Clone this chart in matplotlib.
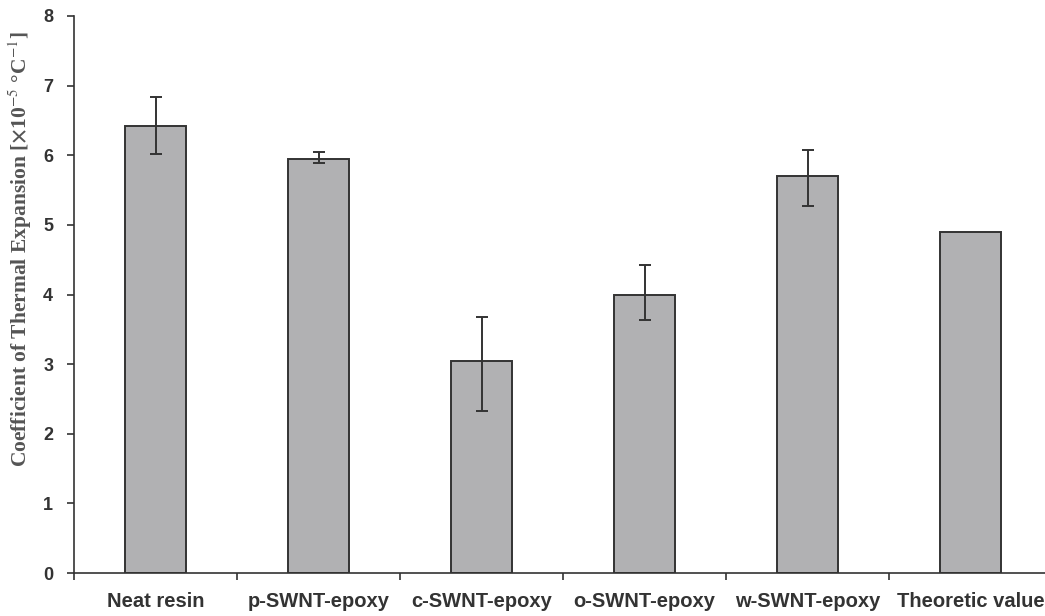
import numpy as np
import matplotlib.pyplot as plt

# data
categories = ['Neat resin', 'p-SWNT-epoxy', 'c-SWNT-epoxy', 'o-SWNT-epoxy',
              'w-SWNT-epoxy', 'Theoretic value']
cte = [6.42, 5.95, 3.05, 4.00, 5.70, 4.90]
err_low = [0.40, 0.06, 0.73, 0.37, 0.43, 0.0]
err_high = [0.42, 0.10, 0.63, 0.42, 0.38, 0.0]
has_err = [True, True, True, True, True, False]

plt.rcParams['mathtext.fontset'] = 'stix'

fig = plt.figure(figsize=(10.45, 6.16), dpi=100)
ax = fig.add_axes([74 / 1045, 1 - 573 / 616, 978 / 1045, (573 - 16) / 616])

x = np.arange(len(categories))
ax.bar(x, cte, width=0.38, color='#b1b1b3', edgecolor='#333333', linewidth=1.4, zorder=2)

xe = x[has_err]
ax.errorbar(xe, np.array(cte)[has_err],
            yerr=[np.array(err_low)[has_err], np.array(err_high)[has_err]],
            fmt='none', ecolor='#333333', elinewidth=1.4, capsize=4, capthick=1.4, zorder=3)

ax.set_xlim(-0.5, len(categories) - 0.5)
ax.set_ylim(0, 8)
ax.set_yticks(range(0, 9))
ax.spines['top'].set_visible(False)
ax.spines['right'].set_visible(False)
for s in ['left', 'bottom']:
    ax.spines[s].set_color('#333333')
    ax.spines[s].set_linewidth(1.2)

# category ticks at boundaries, labels at centres
ax.set_xticks(np.arange(-0.5, len(categories), 1.0))
ax.set_xticklabels([])
ax.set_xticks(x, minor=True)
ax.set_xticklabels(categories, minor=True, fontsize=14.5, fontweight='bold',
                   family='Liberation Sans', color='#333333')
ax.tick_params(axis='x', which='minor', length=0, pad=14)
ax.tick_params(axis='x', which='major', direction='out', length=5, width=1.2, color='#333333')
ax.tick_params(axis='y', direction='out', length=5, width=1.2, color='#333333', pad=10)
for lab in ax.get_yticklabels():
    lab.set_fontsize(13)
    lab.set_fontweight('bold')
    lab.set_family('Liberation Sans')
    lab.set_color('#333333')

ax.set_ylabel(r'Coefficient of Thermal Expansion [$\mathbf{\times}$10$^{-5}$ °C$^{-1}$]',
              family='Liberation Serif', fontweight='bold', fontsize=15.5, color='#555555')
ax.yaxis.set_label_coords(-0.041, 0.582)

fig.savefig('out.png', dpi=100)
